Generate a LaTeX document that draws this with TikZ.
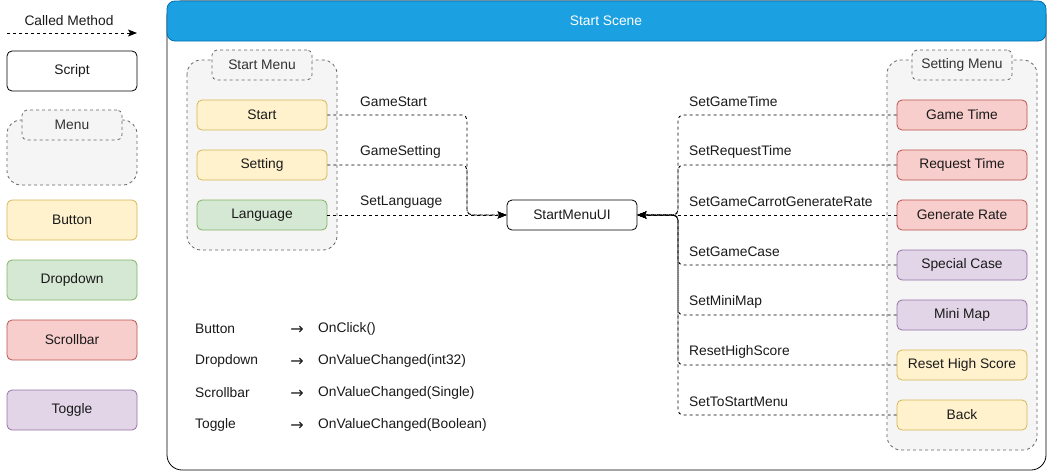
\documentclass[tikz,border=0pt]{standalone}
\usepackage{fontspec}
\setmainfont{Liberation Sans}
\newfontfamily\symfont{DejaVu Sans}
\usetikzlibrary{arrows.meta,calc}
\definecolor{txt}{HTML}{1A1A1A}
\definecolor{tabtxt}{HTML}{333333}
\definecolor{grpfill}{HTML}{F5F5F5}
\definecolor{grpdraw}{HTML}{666666}
\definecolor{btnfill}{HTML}{FFF2CC}
\definecolor{btndraw}{HTML}{D6B656}
\definecolor{ddfill}{HTML}{D5E8D4}
\definecolor{dddraw}{HTML}{82B366}
\definecolor{sbfill}{HTML}{F8CECC}
\definecolor{sbdraw}{HTML}{B85450}
\definecolor{tgfill}{HTML}{E1D5E7}
\definecolor{tgdraw}{HTML}{9673A6}
\definecolor{titlefill}{HTML}{1BA1E2}
\definecolor{titledraw}{HTML}{006EAF}
\tikzset{
  every node/.style={font=\fontsize{13.8}{16}\selectfont, text=txt},
  box/.style={rectangle, rounded corners=5pt, minimum width=130pt, minimum height=30pt, inner sep=0pt, line width=0.8pt},
  scriptbox/.style={box, draw=black, fill=white, minimum height=40pt},
  buttonbox/.style={box, draw=btndraw, fill=btnfill},
  dropbox/.style={box, draw=dddraw, fill=ddfill},
  scrollbox/.style={box, draw=sbdraw, fill=sbfill},
  togglebox/.style={box, draw=tgdraw, fill=tgfill},
  grp/.style={draw=grpdraw, fill=grpfill, dashed, dash pattern=on 3pt off 3pt, rounded corners=14pt, line width=0.8pt},
  tabbox/.style={rectangle, draw=grpdraw, fill=grpfill, dash pattern=on 3pt off 3pt, rounded corners=5pt, minimum width=100pt, minimum height=30pt, inner sep=0pt, text=tabtxt, line width=0.8pt},
  edge/.style={draw=black, line width=0.9pt, dash pattern=on 3pt off 3pt, rounded corners=5pt, -{Stealth[length=9pt,width=7pt,inset=2pt]}},
  lbl/.style={anchor=west, inner sep=0pt},
  arr/.style={font=\symfont\fontsize{16}{18}\selectfont, inner sep=0pt},
}
\begin{document}
\begin{tikzpicture}[x=1pt,y=-1pt]
\useasboundingbox (0,0) rectangle (1048,471);
% ---------- legend ----------
\node (lcalled) at (69,21) {Called Method};
\coordinate (la) at (7,33);
\coordinate (lb) at (137,33);
\draw[edge] (la) -- (lb);
\node[scriptbox] (lscript) at (72,71) {Script};
\draw[grp] (7,120) rectangle (137,185);
\node[tabbox] (lmenu) at (72,125) {Menu};
\node[buttonbox, minimum height=40pt] (lbutton) at (72,220) {Button};
\node[dropbox, minimum height=40pt] (ldrop) at (72,280) {Dropdown};
\node[scrollbox, minimum height=40pt] (lscroll) at (72,340) {Scrollbar};
\node[togglebox, minimum height=40pt] (ltoggle) at (72,410) {Toggle};
% ---------- scene container ----------
\draw[black, line width=0.8pt, fill=white, rounded corners=15pt] (167,1) rectangle (1046,470);
\draw[titledraw, fill=titlefill, line width=0.8pt, rounded corners=8pt] (167,1) rectangle (1046,41);
\node[text=white] (title) at (606,21) {Start Scene};
% ---------- start menu ----------
\draw[grp] (187,60) rectangle (337,250);
\node[tabbox] (smtab) at (262,65) {Start Menu};
\node[buttonbox] (bstart) at (262,115) {Start};
\node[buttonbox] (bsetting) at (262,165) {Setting};
\node[dropbox] (blang) at (262,215) {Language};
% ---------- setting menu ----------
\draw[grp] (887,60) rectangle (1037,450);
\node[tabbox] (setab) at (962,65) {Setting Menu};
\node[scrollbox] (sgt) at (962,115) {Game Time};
\node[scrollbox] (srt) at (962,165) {Request Time};
\node[scrollbox] (sgr) at (962,215) {Generate Rate};
\node[togglebox] (ssc) at (962,265) {Special Case};
\node[togglebox] (smm) at (962,315) {Mini Map};
\node[buttonbox] (shs) at (962,365) {Reset High Score};
\node[buttonbox] (sback) at (962,415) {Back};
% ---------- central script ----------
\node[scriptbox, minimum height=30pt] (smui) at (572,215) {StartMenuUI};
\coordinate (jl) at (467,215);
\coordinate (jr) at (678,215);
% ---------- edges left ----------
\draw[edge] (bstart.east) -| (jl) -- (smui.west);
\draw[edge] (bsetting.east) -| (jl) -- (smui.west);
\draw[edge] (blang.east) -- (smui.west);
\node[lbl] (lgs) at (360,102) {GameStart};
\node[lbl] (lgse) at (360,152) {GameSetting};
\node[lbl] (lsl) at (360,202) {SetLanguage};
% ---------- edges right ----------
\foreach \n in {sgt,srt,ssc,smm,shs,sback}{
  \draw[edge] (\n.west) -| (jr) -- (smui.east);
}
\draw[edge] (sgr.west) -- (smui.east);
\node[lbl] (r1) at (689,102) {SetGameTime};
\node[lbl] (r2) at (689,152) {SetRequestTime};
\node[lbl] (r3) at (689,202) {SetGameCarrotGenerateRate};
\node[lbl] (r4) at (689,252) {SetGameCase};
\node[lbl] (r5) at (689,302) {SetMiniMap};
\node[lbl] (r6) at (689,352) {ResetHighScore};
\node[lbl] (r7) at (689,402) {SetToStartMenu};
% ---------- mapping text ----------
\node[lbl] (m1a) at (195,329) {Button};
\node[lbl] (m2a) at (195,361) {Dropdown};
\node[lbl] (m3a) at (195,393) {Scrollbar};
\node[lbl] (m4a) at (195,425) {Toggle};
\node[arr] (m1b) at (297,330) {→};
\node[arr] (m2b) at (297,362) {→};
\node[arr] (m3b) at (297,394) {→};
\node[arr] (m4b) at (297,426) {→};
\node[lbl] (m1c) at (318,329) {OnClick()};
\node[lbl] (m2c) at (318,361) {OnValueChanged(int32)};
\node[lbl] (m3c) at (318,393) {OnValueChanged(Single)};
\node[lbl] (m4c) at (318,425) {OnValueChanged(Boolean)};
\end{tikzpicture}
\end{document}
